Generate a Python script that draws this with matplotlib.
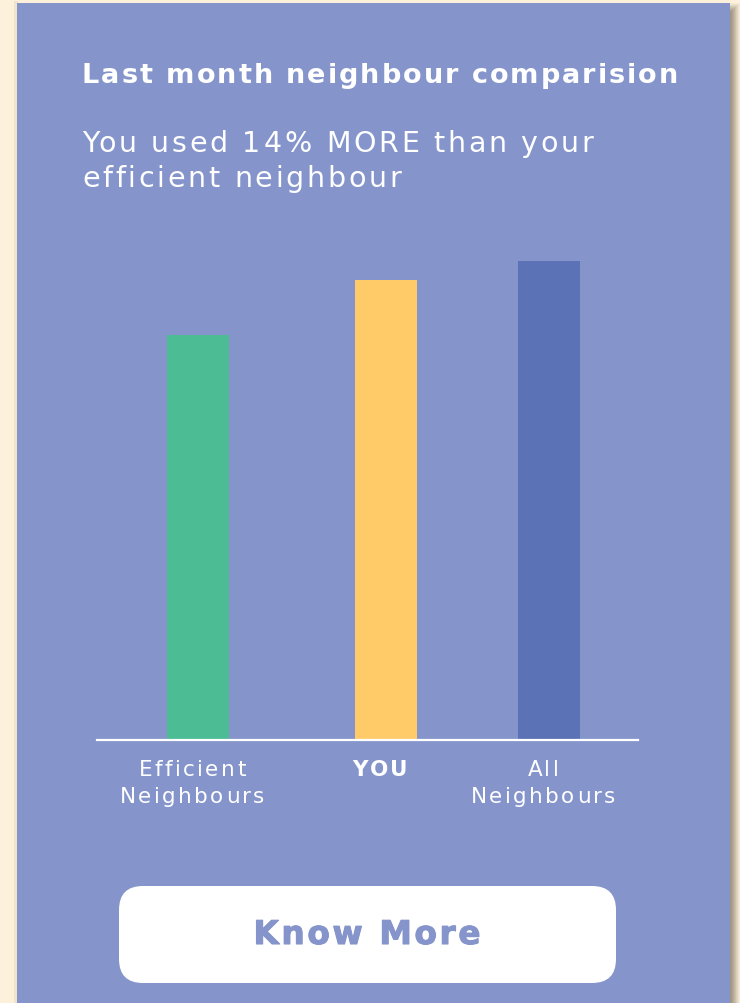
import matplotlib.pyplot as plt
import matplotlib.patheffects as pe
from matplotlib.patches import Rectangle, FancyBboxPatch

# Data
categories = ["Efficient\nNeighbours", "YOU", "All\nNeighbours"]
usage = [100, 113.6, 118.3]
bar_colors = ["#4CBC94", "#FFCB69", "#5B72B7"]
title = "Last month neighbour comparision"
subtitle = ["You used 14% MORE than your", "efficient neighbour"]
button_text = "Know More"

W, H = 740, 1004
card_color = "#8595CB"
cream = "#FDF1DC"
font = ["DejaVu Sans"]

fig = plt.figure(figsize=(W / 100, H / 100), dpi=100)
fig.patch.set_facecolor(cream)
renderer = fig.canvas.get_renderer()

# background layer in pixel coords (y down)
bg = fig.add_axes([0, 0, 1, 1])
bg.set_xlim(0, W)
bg.set_ylim(H, 0)
bg.axis("off")


def text_width(s, **kw):
    t = bg.text(0, 0, s, **kw)
    w = t.get_window_extent(renderer).width
    t.remove()
    return w


def spacing_for(s, target, **kw):
    return max(0, (target - text_width(s, **kw)) / (len(s) - 1))


def spaced_text(x, y, s, spacing, ha="left", **kw):
    # draw text with extra letter spacing, char by char
    pos = []
    for i, ch in enumerate(s):
        pos.append(text_width(s[:i + 1], **kw) - text_width(ch, **kw) if ch != " " else None)
    total = text_width(s, **kw) + spacing * (len(s) - 1)
    x0 = x - total / 2 if ha == "center" else x
    for i, ch in enumerate(s):
        if ch == " ":
            continue
        bg.text(x0 + pos[i] + i * spacing, y, ch, ha="left", va="baseline", **kw)


# card shadow + card
for i, a in enumerate([0.06, 0.08, 0.1, 0.12, 0.14, 0.16, 0.18, 0.2, 0.22, 0.24]):
    bg.add_patch(Rectangle((730, 4 + i), 10 - i, H, color="#8a8070", alpha=a, lw=0))
bg.add_patch(Rectangle((14, 2), 4, H, color="#e8dcc0", alpha=0.6, lw=0))
bg.add_patch(Rectangle((17, 4), 713, H, color=card_color, lw=0))

# title + subtitle
kw_title = dict(color="white", fontsize=19.5, fontweight="bold", family=font)
spaced_text(82, 83, title, spacing_for(title, 596, **kw_title), **kw_title)
kw_sub = dict(color="white", fontsize=20.5, family=font)
sp = spacing_for(subtitle[0], 511, **kw_sub)
for line, base in zip(subtitle, [152, 187]):
    spaced_text(82, base, line, sp, **kw_sub)

# button
bg.add_patch(FancyBboxPatch((119, 887), 497, 97, boxstyle="round,pad=0,rounding_size=24",
                            fc="white", ec="none"))
kw_btn = dict(color=card_color, fontsize=23.5, fontweight="bold", family=font)
sp_btn = spacing_for(button_text, 227, **kw_btn)
spaced_text(367, 945, button_text, sp_btn, ha="center",
            path_effects=[pe.withStroke(linewidth=0.8, foreground=card_color)], **kw_btn)

# chart axes: x in pixels, bottom at y=741
ax_left, ax_right = 97, 638
ax_bottom, ax_top = 741, 215
ax = fig.add_axes([ax_left / W, (H - ax_bottom) / H,
                   (ax_right - ax_left) / W, (ax_bottom - ax_top) / H])
ax.set_facecolor("none")
bar_x = [198, 386, 549]
ax.bar(bar_x, usage, width=62, color=bar_colors)
ax.set_xlim(ax_left, ax_right)
ax.set_ylim(0, 130)
for s in ["top", "left", "right"]:
    ax.spines[s].set_visible(False)
ax.spines["bottom"].set_color("white")
ax.spines["bottom"].set_linewidth(1.6)
ax.set_yticks([])
ax.set_xticks([])

# category labels under the axis
kw_lab = dict(color="white", fontsize=15.5, family=font)
sp_lab = spacing_for("Neighbours", 145, **kw_lab)
for x, lab in zip(bar_x, categories):
    wt = "bold" if lab == "YOU" else "normal"
    for j, line in enumerate(lab.split("\n")):
        spaced_text(x - 6, 776 + 27 * j, line, sp_lab, ha="center", fontweight=wt, **kw_lab)

fig.savefig("out.png", dpi=100, facecolor=fig.get_facecolor())
